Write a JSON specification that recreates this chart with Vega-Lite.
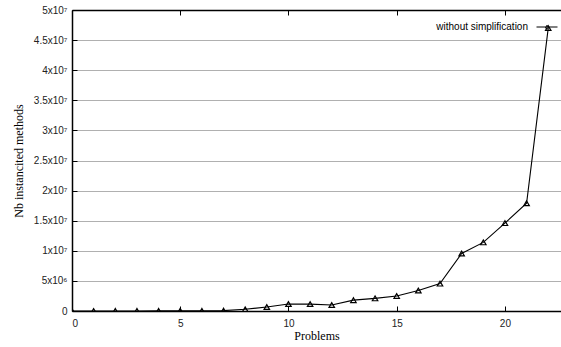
{
  "$schema": "https://vega.github.io/schema/vega-lite/v6.json",
  "autosize": "none",
  "width": 489,
  "height": 301,
  "padding": {"left": 72, "top": 10, "right": 0, "bottom": 36},
  "background": "white",
  "config": {
    "view": {"stroke": null},
    "axis": {"labelFont": "Liberation Sans", "labelFontSize": 10, "labelColor": "#222", "titleFont": "Liberation Serif", "titleFontSize": 12, "titleFontWeight": "normal", "titleColor": "#000", "domainColor": "#000", "tickColor": "#000"}
  },
  "data": {"values": [
    {"problem": 0, "methods": 5000, "series": "without simplification"},
    {"problem": 1, "methods": 8000, "series": "without simplification"},
    {"problem": 2, "methods": 10000, "series": "without simplification"},
    {"problem": 3, "methods": 12000, "series": "without simplification"},
    {"problem": 4, "methods": 15000, "series": "without simplification"},
    {"problem": 5, "methods": 40000, "series": "without simplification"},
    {"problem": 6, "methods": 30000, "series": "without simplification"},
    {"problem": 7, "methods": 60000, "series": "without simplification"},
    {"problem": 8, "methods": 280000, "series": "without simplification"},
    {"problem": 9, "methods": 670000, "series": "without simplification"},
    {"problem": 10, "methods": 1170000, "series": "without simplification"},
    {"problem": 11, "methods": 1150000, "series": "without simplification"},
    {"problem": 12, "methods": 1000000, "series": "without simplification"},
    {"problem": 13, "methods": 1800000, "series": "without simplification"},
    {"problem": 14, "methods": 2100000, "series": "without simplification"},
    {"problem": 15, "methods": 2500000, "series": "without simplification"},
    {"problem": 16, "methods": 3400000, "series": "without simplification"},
    {"problem": 17, "methods": 4550000, "series": "without simplification"},
    {"problem": 18, "methods": 9550000, "series": "without simplification"},
    {"problem": 19, "methods": 11400000, "series": "without simplification"},
    {"problem": 20, "methods": 14600000, "series": "without simplification"},
    {"problem": 21, "methods": 17900000, "series": "without simplification"},
    {"problem": 22, "methods": 47000000, "series": "without simplification"}
  ]},
  "layer": [
    {
      "mark": {"type": "line", "strokeWidth": 1.1, "clip": true, "point": {"shape": "triangle-up", "filled": false, "size": 30, "strokeWidth": 1.2, "stroke": "#000", "fill": "white", "fillOpacity": 0}},
      "encoding": {
        "x": {"field": "problem", "type": "quantitative", "scale": {"domain": [0, 22.59], "nice": false, "zero": false},
          "axis": {"orient": "bottom", "title": "Problems", "values": [0, 5, 10, 15, 20], "tickSize": -5, "labelPadding": 12, "grid": false, "titlePadding": 2, "domainWidth": 1.5}},
        "y": {"field": "methods", "type": "quantitative", "scale": {"domain": [0, 50000000], "nice": false},
          "axis": {"orient": "left", "title": "Nb instancited methods", "values": [0, 5000000, 10000000, 15000000, 20000000, 25000000, 30000000, 35000000, 40000000, 45000000, 50000000],
            "labelExpr": "datum.value == 0 ? '0' : (datum.value < 10000000 ? format(datum.value/1000000, '') + 'x10⁶' : format(datum.value/10000000, '') + 'x10⁷')",
            "tickSize": -5, "labelPadding": 10, "grid": true, "gridColor": "#b0b0b0", "gridWidth": 1, "titlePadding": 8, "domainWidth": 1.5}},
        "color": {"field": "series", "type": "nominal", "scale": {"range": ["#000000"]},
          "legend": {"title": null, "orient": "none", "legendX": 464, "legendY": 6, "labelFont": "Liberation Sans", "labelFontSize": 10, "labelColor": "#000", "labelAlign": "right", "labelOffset": -30,
            "symbolType": "M-1,0L1,0M0,-0.17L0.15,0.1L-0.15,0.1Z", "symbolSize": 441, "symbolStrokeColor": "#000", "symbolFillColor": "transparent", "symbolStrokeWidth": 1}}
      }
    },
    {
      "mark": {"type": "point", "opacity": 0},
      "encoding": {
        "x": {"field": "problem", "type": "quantitative", "axis": {"orient": "top", "title": null, "labels": false, "values": [0, 5, 10, 15, 20], "tickSize": -5, "grid": false, "domainWidth": 1.5}}
      }
    }
  ],
  "resolve": {"axis": {"x": "independent"}}
}
